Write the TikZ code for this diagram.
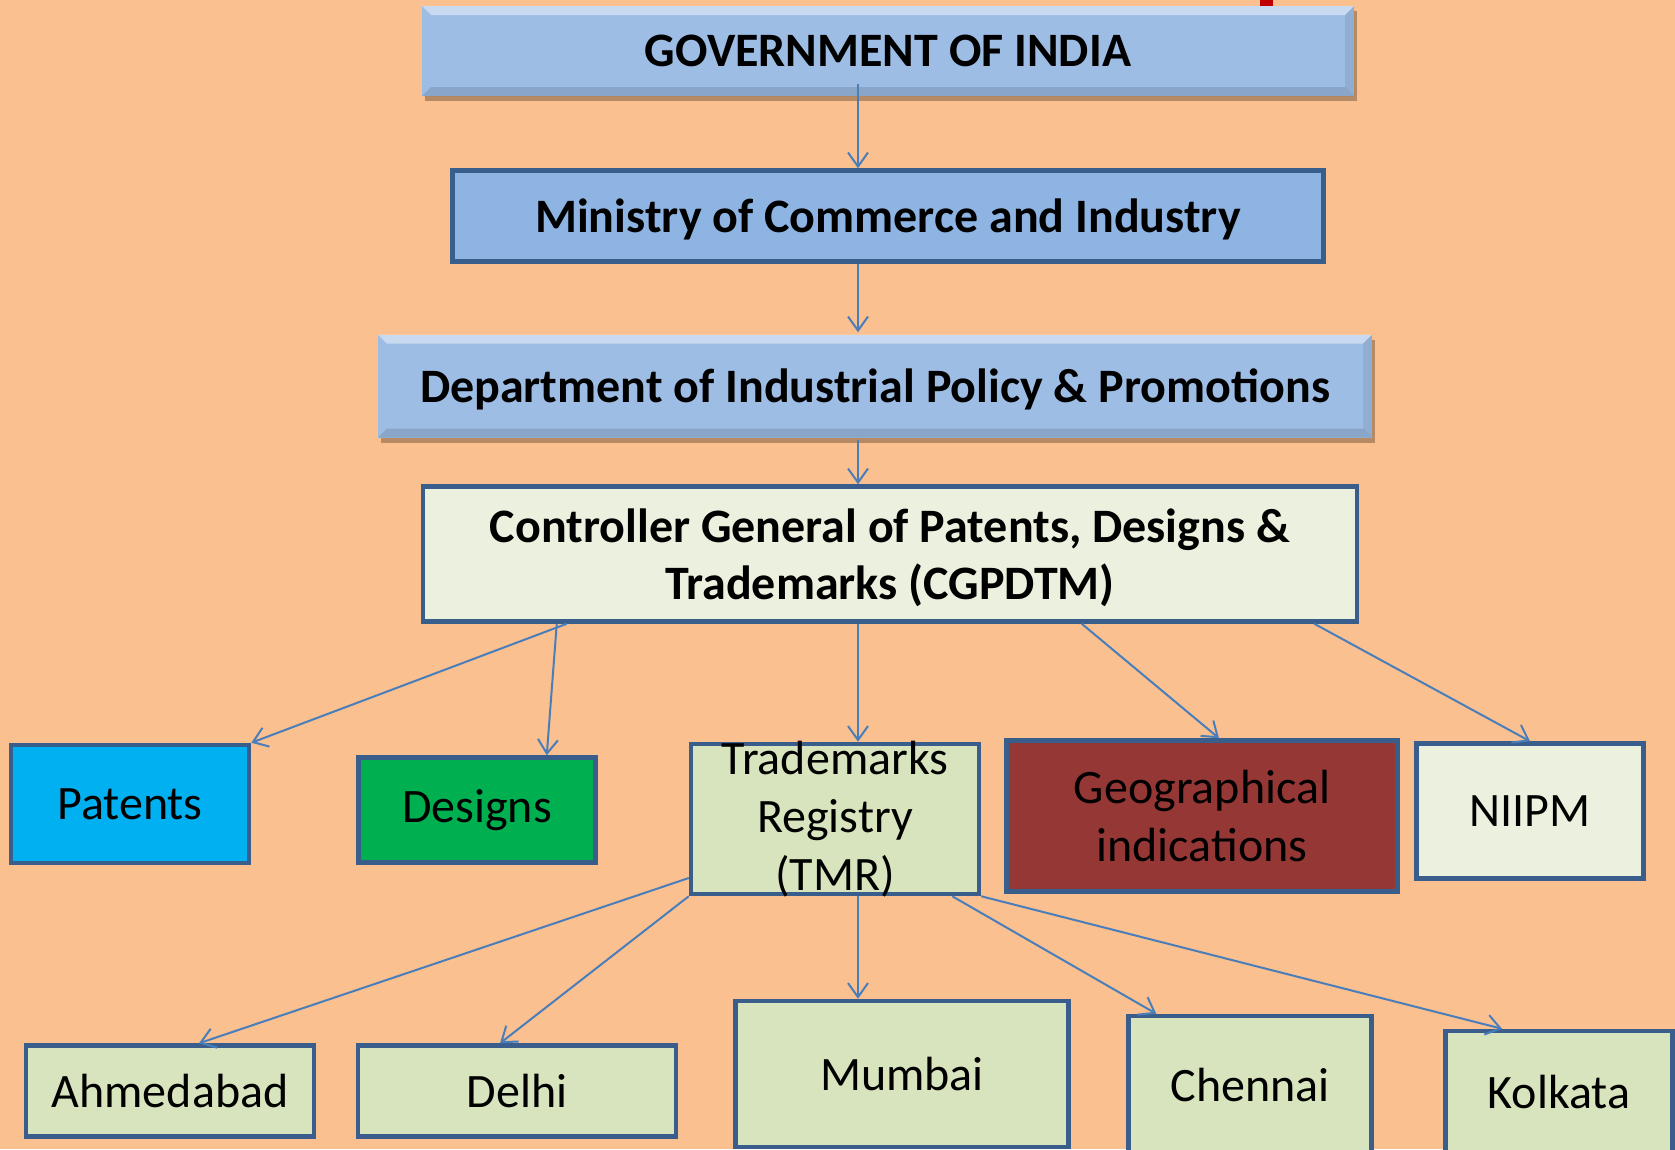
\documentclass[tikz,border=0pt]{standalone}
\usepackage{fontspec}
\setmainfont{Carlito}
\usetikzlibrary{arrows.meta,shadows}

\definecolor{peach}{HTML}{FAC090}
\definecolor{bevelblue}{HTML}{9DBDE4}
\definecolor{minblue}{HTML}{8EB4E3}
\definecolor{frame}{HTML}{3A5E8C}
\definecolor{arrowblue}{HTML}{4A7EBB}
\definecolor{palegreen}{HTML}{EBF1DE}
\definecolor{sage}{HTML}{D7E4BD}
\definecolor{patblue}{HTML}{00B0F0}
\definecolor{desgreen}{HTML}{00B050}
\definecolor{girust}{HTML}{953735}
\definecolor{redmark}{HTML}{C00000}

\tikzset{
  office/.style={rectangle, draw=frame, line width=4.5pt, inner sep=0pt,
    align=center, font=\fontsize{48}{58}\selectfont},
  head/.style={office, text depth=0pt, font=\bfseries\fontsize{48}{57}\selectfont},
  bevel/.style={head, draw=none, fill=bevelblue,
    drop shadow={shadow xshift=3pt, shadow yshift=-5pt, opacity=0.35, fill=black!70!brown},
    path picture={
      \fill[white,opacity=0.45] (path picture bounding box.north west) -- (path picture bounding box.north east)
        -- ([shift={(-9pt,-9pt)}]path picture bounding box.north east) -- ([shift={(9pt,-9pt)}]path picture bounding box.north west) -- cycle;
      \fill[black,opacity=0.12] (path picture bounding box.south west) -- (path picture bounding box.south east)
        -- ([shift={(-9pt,9pt)}]path picture bounding box.south east) -- ([shift={(9pt,9pt)}]path picture bounding box.south west) -- cycle;
      \fill[black,opacity=0.08] (path picture bounding box.north east) -- (path picture bounding box.south east)
        -- ([shift={(-9pt,9pt)}]path picture bounding box.south east) -- ([shift={(-9pt,-9pt)}]path picture bounding box.north east) -- cycle;
    }},
  link/.style={->, draw=arrowblue, line width=2pt},
  >={Straight Barb[length=14pt,width=20pt]}
}

\begin{document}
\begin{tikzpicture}[x=1pt,y=-1pt]
  \path[use as bounding box, fill=peach] (0,0) rectangle (1675,1149);
  \fill[redmark] (1260,0) rectangle (1273,6);
  \coordinate (spine) at (858,0);

  % ministry chain
  \node[bevel, minimum width=932pt, minimum height=90pt] (gov) at (888,51) {GOVERNMENT OF INDIA};
  \node[head, fill=minblue, minimum width=871pt, minimum height=91pt] (min) at (888,216) {Ministry of Commerce and Industry};
  \node[bevel, minimum width=994pt, minimum height=103pt] (dipp) at (875,386) {Department of Industrial Policy \& Promotions};
  \node[head, fill=palegreen, minimum width=934pt, minimum height=135pt] (cg) at (890,554) {Controller General of Patents, Designs \&\\Trademarks (CGPDTM)};

  % offices
  \node[office, fill=patblue, minimum width=238pt, minimum height=118pt] (pat) at (130,804) {Patents};
  \node[office, fill=desgreen, minimum width=237pt, minimum height=105pt] (des) at (477,810) {Designs};
  \node[office, fill=sage, inner ysep=-14pt, minimum width=288pt, minimum height=150pt] (tmr) at (835,819) {Trademarks\\Registry\\(TMR)};
  \node[office, fill=girust, minimum width=391pt, minimum height=151pt] (gi) at (1202,816) {Geographical\\indications};
  \node[office, fill=palegreen, minimum width=227pt, minimum height=135pt] (niipm) at (1530,811) {NIIPM};

  % registry branches
  \node[office, fill=sage, minimum width=288pt, minimum height=91pt] (ahm) at (170,1091) {Ahmedabad};
  \node[office, fill=sage, minimum width=318pt, minimum height=91pt] (del) at (517,1091) {Delhi};
  \node[office, fill=sage, minimum width=333pt, minimum height=146pt] (mum) at (902,1074) {Mumbai};
  \node[office, fill=sage, minimum width=243pt, minimum height=138pt] (che) at (1250,1085) {Chennai};
  \node[office, fill=sage, minimum width=227pt, minimum height=122pt] (kol) at (1559,1092) {Kolkata};

  \draw[link] ([yshift=14pt]gov.south -| spine) -- (min.north -| spine);
  \draw[link] (min.south -| spine) -- (dipp.north -| spine);
  \draw[link] (dipp.south -| spine) -- (cg.north -| spine);
  \draw[link] ([xshift=146pt]cg.south west) -- (pat.north east);
  \draw[link] ([xshift=136pt]cg.south west) -- ([xshift=-51pt]des.north east);
  \draw[link] (cg.south -| spine) -- (tmr.north -| spine);
  \draw[link] ([xshift=661pt]cg.south west) -- ([xshift=17pt]gi.north);
  \draw[link] ([xshift=-45pt]cg.south east) -- (niipm.north);
  \draw[link] ([yshift=-59pt]tmr.west) -- ([xshift=29pt]ahm.north);
  \draw[link] (tmr.south west) -- ([xshift=-17pt]del.north);
  \draw[link] (tmr.south -| spine) -- (mum.north -| spine);
  \draw[link] ([xshift=-29pt]tmr.south east) -- ([xshift=30pt]che.north west);
  \draw[link] (tmr.south east) -- ([xshift=-57pt]kol.north);
\end{tikzpicture}
\end{document}
